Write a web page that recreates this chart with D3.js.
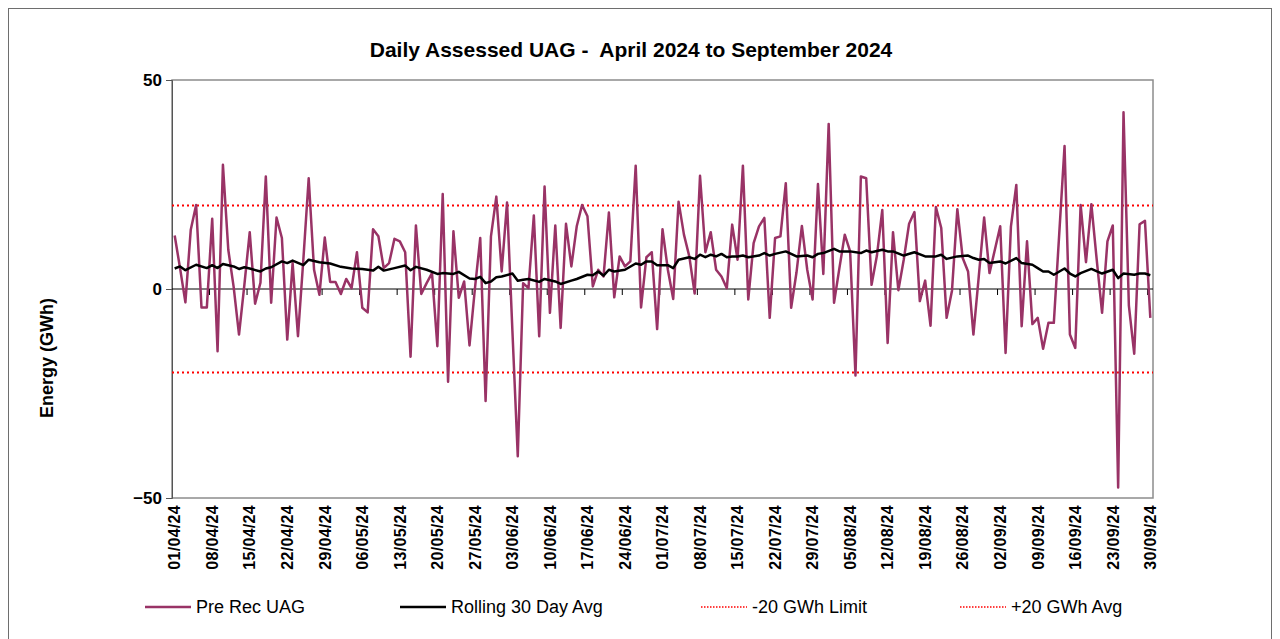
<!DOCTYPE html>
<html>
<head>
<meta charset="utf-8">
<script src="https://cdn.jsdelivr.net/npm/d3@7"></script>
<style>
  body { margin: 0; background: #fff; }
  svg { display: block; font-family: "Liberation Sans", Arial, sans-serif; }
</style>
</head>
<body>
<div id="chart"></div>
<script>
/* DATA */
const startDate = new Date(2024, 3, 1);
const endDate = new Date(2024, 9, 1);
const days = d3.timeDay.range(startDate, endDate);   // 01/04/24 .. 30/09/24

// Pre Rec UAG, one value per day (GWh)
const preRec = [
  12.8, 5, -3.2, 14.2, 20.1, -4.4, -4.4, 16.8, -14.9, 29.7,
  9.4, 0.5, -10.9, 1, 13.6, -3.5, 1.5, 26.9, -3.3, 17.1,
  12.2, -12.1, 6.2, -11.3, 7, 26.5, 4.6, -1.4, 12.3, 1.7,
  1.7, -1.2, 2.4, 0.2, 8.8, -4.5, -5.6, 14.3, 12.6, 5.0,
  6.2, 12.0, 11.4, 8.8, -16.2, 15.2, -1.2, 1.4, 3.8, -13.7,
  22.7, -22.2, 13.8, -2.1, 1.8, -13.5, 0, 12.2, -26.8, 12.6,
  22.1, 4.2, 20.7, -10, -40, 1.4, 0.2, 17.6, -11.3, 24.5,
  -5.7, 15.2, -9.3, 15.6, 5.4, 15.0, 20.1, 17.4, 0.6, 4.6,
  3.0, 18.3, -2, 7.8, 5.4, 6.6, 29.5, -4.4, 7.6, 8.8,
  -9.6, 14.3, 4.6, -2.4, 20.9, 13.0, 7.8, -1.1, 27.1, 8.8,
  13.6, 4.6, 3.0, 0.2, 15.4, 7.0, 29.5, -2.5, 11.0, 15.0,
  17.0, -6.9, 12.2, 12.6, 25.3, -4.5, 4, 15.1, 4.6, -2.5,
  25.1, 3.6, 39.5, -3.3, 5, 13.0, 9.0, -20.7, 26.9, 26.5,
  1.0, 8, 18.9, -12.9, 13.6, -0.3, 7.0, 15.6, 18.4, -2.9,
  2.0, -8.8, 19.6, 14.6, -6.9, -0.4, 19.1, 7.4, 4.2, -10.9,
  3.0, 17.1, 3.8, 9.4, 15.0, -15.3, 15.0, 24.9, -8.9, 11.4,
  -8.4, -6.9, -14.3, -8.1, -8.1, 13, 34.2, -10.9, -14.1, 20.1,
  6.4, 20.3, 7, -5.7, 11.4, 15.2, -47.5, 42.3, -4, -15.5,
  15.5, 16.3, -6.9
];

// Rolling 30 day average, read at these day indices
const rollDay = [
  0, 1, 2, 4, 6, 7, 8, 9, 11, 12, 13, 14, 16, 17, 18, 20, 21, 22, 24, 25,
  27, 29, 31, 33, 35, 37, 38, 39, 41, 43, 44, 45, 47, 49, 50, 52, 53, 55, 56, 57,
  58, 59, 60, 61, 63, 64, 65, 66, 68, 69, 71, 72, 74, 75, 77, 78, 79, 80, 81, 82,
  84, 86, 87, 88, 89, 90, 92, 93, 94, 96, 97, 98, 99, 100, 101, 102, 103, 104, 105, 106,
  107, 109, 110, 111, 112, 114, 116, 118, 119, 120, 121, 123, 124, 126, 128, 129, 130, 132, 133, 134,
  136, 138, 140, 142, 143, 144, 146, 148, 149, 150, 151, 152, 154, 155, 157, 158, 160, 161, 162, 163,
  164, 166, 167, 168, 169, 171, 173, 175, 176, 177, 179, 180, 181, 182
];
const rollValue = [
  4.9, 5.4, 4.5, 5.8, 5.0, 5.7, 5.0, 6.0, 5.4, 4.8, 5.2, 4.9, 4.2, 4.9, 5.2, 6.6, 6.2, 6.8, 5.7, 7.0,
  6.4, 6.1, 5.3, 4.9, 4.8, 4.4, 5.3, 4.4, 5.0, 5.6, 4.5, 5.3, 4.6, 3.6, 3.8, 3.6, 4.1, 2.5, 2.4, 2.9,
  1.4, 1.8, 2.8, 3.0, 3.7, 2.0, 2.2, 2.4, 1.7, 2.4, 1.8, 1.2, 2.0, 2.4, 3.4, 3.3, 4.2, 3.2, 4.6, 4.2,
  4.6, 6.1, 5.8, 6.6, 6.6, 5.7, 5.7, 5.0, 7.0, 7.6, 7.2, 8.2, 7.6, 8.2, 7.8, 8.4, 7.6, 7.8, 7.8, 8.0,
  7.6, 8.0, 8.6, 8.0, 8.4, 9.0, 7.8, 8.0, 7.6, 8.4, 8.6, 9.6, 9.0, 9.0, 8.6, 9.2, 8.8, 9.4, 9.0, 9.0,
  8.0, 8.8, 7.8, 7.8, 8.2, 7.2, 7.8, 8.0, 7.4, 7.0, 7.2, 6.2, 6.6, 6.1, 7.4, 6.2, 5.8, 5.0, 4.2, 4.2,
  3.4, 4.9, 3.7, 3.0, 3.8, 4.8, 3.7, 4.6, 2.6, 3.7, 3.4, 3.7, 3.7, 3.3
];

const lowerLimit = -20;
const upperLimit = 20;
const yTicks = [-50, 0, 50];
const labelEvery = 7;
const seriesNames = ["Pre Rec UAG", "Rolling 30 Day Avg", "-20 GWh Limit", "+20 GWh Avg"];

/* CONFIGURATION */
const config = {
    width: 1280,
    height: 639,
    plot: { left: 172, right: 1153, top: 80, bottom: 498 }
};
const maroon = "#993366";

const svg = d3.select("#chart")
    .append("svg")
    .attr("width", config.width)
    .attr("height", config.height);

// outer frame
svg.append("rect")
    .attr("x", 8.5).attr("y", 8.5)
    .attr("width", 1263).attr("height", 650)
    .attr("fill", "none")
    .attr("stroke", "#6e6e6e")
    .attr("stroke-width", 1);

// title
svg.append("text")
    .attr("x", 631).attr("y", 57)
    .attr("text-anchor", "middle")
    .style("font-size", "21px")
    .style("font-weight", "bold")
    .text("Daily Assessed UAG -\u00a0 April 2024 to September 2024");

/* SCALES */
const x = d3.scaleBand()
    .domain(d3.range(days.length))
    .range([config.plot.left, config.plot.right])
    .padding(0);
const cx = i => x(i) + x.bandwidth() / 2;

const y = d3.scaleLinear()
    .domain([-50, 50])
    .range([config.plot.bottom, config.plot.top]);

// plot border
svg.append("rect")
    .attr("x", config.plot.left).attr("y", config.plot.top)
    .attr("width", config.plot.right - config.plot.left)
    .attr("height", config.plot.bottom - config.plot.top)
    .attr("fill", "none")
    .attr("stroke", "#8c8c8c")
    .attr("stroke-width", 1.5);

// y axis
const yAxis = svg.append("g")
    .attr("transform", `translate(${config.plot.left},0)`)
    .call(d3.axisLeft(y).tickValues(yTicks).tickSize(6).tickPadding(4).tickFormat(d3.format("d")));
yAxis.select(".domain").attr("stroke", "#555");
yAxis.selectAll(".tick line").attr("stroke", "#555");
yAxis.selectAll("text")
    .style("font-size", "17px")
    .style("font-weight", "bold")
    .style("font-family", "Liberation Sans, Arial, sans-serif")
    .attr("fill", "#000");

svg.append("text")
    .attr("transform", "translate(53,358) rotate(-90)")
    .attr("text-anchor", "middle")
    .style("font-size", "18px")
    .style("font-weight", "bold")
    .text("Energy (GWh)");

// zero line with category ticks
const y0 = y(0);
svg.append("line")
    .attr("x1", config.plot.left).attr("x2", config.plot.right)
    .attr("y1", y0).attr("y2", y0)
    .attr("stroke", "#000").attr("stroke-width", 1);

const tickIdx = d3.range(labelEvery, days.length, labelEvery);
svg.append("g").selectAll("line")
    .data(tickIdx)
    .join("line")
    .attr("x1", d => x(d)).attr("x2", d => x(d))
    .attr("y1", y0).attr("y2", y0 + 6)
    .attr("stroke", "#000").attr("stroke-width", 1);

// date labels
const fmt = d3.timeFormat("%d/%m/%y");
const labelIdx = d3.range(0, days.length, labelEvery);
svg.append("g").selectAll("text")
    .data(labelIdx)
    .join("text")
    .attr("transform", d => `translate(${cx(d)},${config.plot.bottom + 7}) rotate(-90)`)
    .attr("text-anchor", "end")
    .attr("dy", "0.36em")
    .style("font-size", "16px")
    .style("font-weight", "bold")
    .style("letter-spacing", "0.3px")
    .text(d => fmt(days[d]));

// limit lines
[lowerLimit, upperLimit].forEach(v => {
    svg.append("line")
        .attr("x1", config.plot.left).attr("x2", config.plot.right)
        .attr("y1", y(v)).attr("y2", y(v))
        .attr("stroke", "#ff0000")
        .attr("stroke-width", 2)
        .attr("stroke-dasharray", "2,3");
});

// Pre Rec UAG
const line = d3.line().x((d, i) => cx(i)).y(d => y(d));
svg.append("path")
    .datum(preRec)
    .attr("d", line)
    .attr("fill", "none")
    .attr("stroke", maroon)
    .attr("stroke-width", 2.5)
    .attr("stroke-linejoin", "round");

// Rolling average
const rollLine = d3.line().x(d => cx(d[0])).y(d => y(d[1]));
svg.append("path")
    .datum(rollDay.map((d, k) => [d, rollValue[k]]))
    .attr("d", rollLine)
    .attr("fill", "none")
    .attr("stroke", "#000")
    .attr("stroke-width", 2.5)
    .attr("stroke-linejoin", "round");

/* LEGEND */
const legendItems = [
    { x: 145, color: maroon, dash: null, w: 2.5 },
    { x: 400, color: "#000", dash: null, w: 2.5 },
    { x: 701, color: "#ff0000", dash: "1.5,1.5", w: 1.5 },
    { x: 960, color: "#ff0000", dash: "1.5,1.5", w: 1.5 }
];
const legend = svg.append("g");
legendItems.forEach((it, k) => {
    legend.append("line")
        .attr("x1", it.x).attr("x2", it.x + 46)
        .attr("y1", 607).attr("y2", 607)
        .attr("stroke", it.color)
        .attr("stroke-width", it.w)
        .attr("stroke-dasharray", it.dash);
    legend.append("text")
        .attr("x", it.x + 51).attr("y", 613)
        .style("font-size", "18px")
        .text(seriesNames[k]);
});
</script>
</body>
</html>
